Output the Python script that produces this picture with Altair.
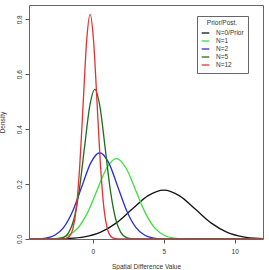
import altair as alt
import pandas as pd

# Density curves for the prior and the posteriors after N observations
series_names = ["N=0/Prior", "N=1", "N=2", "N=5", "N=12"]
series_colors = ["#141414", "#3ae23a", "#2b2bdc", "#1f6e1f", "#e63030"]

prior_x = [-4.5, -3.96, -2.84, -1.72, -0.6, 0.52, 1.64, 2.76, 3.88, 5.0,
           6.12, 7.24, 8.36, 9.48, 10.6, 11.72, 12.0]
prior_y = [0.0001, 0.0001, 0.0004, 0.002, 0.0078, 0.024, 0.0578, 0.108, 0.157, 0.178,
           0.157, 0.108, 0.0578, 0.024, 0.0078, 0.002, 0.0014]

n1_x = [-4.5, -3.78, -3.1, -2.42, -1.74, -1.06, -0.38, 0.3, 0.98, 1.66,
        2.34, 3.02, 3.7, 4.38, 5.06, 5.74, 6.42, 7.1, 12.0]
n1_y = [0.0, 0.0001, 0.0006, 0.0033, 0.0129, 0.0396, 0.0951, 0.1777, 0.2586, 0.293,
        0.2586, 0.1777, 0.0951, 0.0396, 0.0129, 0.0033, 0.0006, 0.0001, 0.0]

n2_x = [-4.5, -3.955, -3.32, -2.685, -2.05, -1.415, -0.78, -0.145, 0.49,
        1.125, 1.76, 2.395, 3.03, 3.665, 4.3, 4.935, 5.57, 12.0]
n2_y = [0.00014, 0.0007, 0.0035, 0.0138, 0.0425, 0.102, 0.1904, 0.2771, 0.314,
        0.2771, 0.1904, 0.102, 0.0425, 0.0138, 0.0035, 0.0007, 0.0001, 0.0]

n5_x = [-4.5, -2.788, -2.422, -2.056, -1.69, -1.324, -0.958, -0.592, -0.226, 0.14,
        0.506, 0.872, 1.238, 1.604, 1.97, 2.336, 2.702, 3.068, 12.0]
n5_y = [0.0, 0.0002, 0.0012, 0.0061, 0.0239, 0.0737, 0.177, 0.3306, 0.481, 0.545,
        0.481, 0.3306, 0.177, 0.0737, 0.0239, 0.0061, 0.0012, 0.0002, 0.0]

n12_x = [-4.5, -2.142, -1.898, -1.654, -1.41, -1.166, -0.922, -0.678, -0.434, -0.19,
         0.054, 0.298, 0.542, 0.786, 1.03, 1.274, 1.518, 1.762, 12.0]
n12_y = [0.0, 0.0003, 0.0018, 0.0091, 0.0359, 0.1107, 0.2656, 0.4961, 0.7219, 0.818,
         0.7219, 0.4961, 0.2656, 0.1107, 0.0359, 0.0091, 0.0018, 0.0003, 0.0]

x_ticks = [0, 5, 10]
y_ticks = [0.0, 0.2, 0.4, 0.6, 0.8]

curves = [(prior_x, prior_y), (n1_x, n1_y), (n2_x, n2_y), (n5_x, n5_y), (n12_x, n12_y)]
rows = []
for order, (name, (xs, ys)) in enumerate(zip(series_names, curves)):
    for x, y in zip(xs, ys):
        rows.append({"series": name, "order": order, "x": x, "density": y})
df = pd.DataFrame(rows)

font = "Liberation Sans"
text_color = "#333333"

chart = (
    alt.Chart(df)
    .mark_line(strokeWidth=1.3, interpolate="monotone", clip=True)
    .encode(
        x=alt.X(
            "x:Q",
            scale=alt.Scale(domain=[-4.5, 12], nice=False, zero=False),
            axis=alt.Axis(
                title="Spatial Difference Value",
                values=x_ticks,
                format="d",
                grid=False,
                domain=False,
                tickSize=4,
                tickColor="#555555",
                labelPadding=5,
                titlePadding=9,
            ),
        ),
        y=alt.Y(
            "density:Q",
            scale=alt.Scale(domain=[0, 0.852], nice=False, zero=False),
            axis=alt.Axis(
                title="Density",
                values=y_ticks,
                format=".1f",
                grid=False,
                domain=False,
                tickSize=4,
                tickColor="#555555",
                labelAngle=270,
                labelAlign="center",
                labelBaseline="bottom",
                labelPadding=3,
                titlePadding=10.5,
            ),
        ),
        color=alt.Color(
            "series:N",
            scale=alt.Scale(domain=series_names, range=series_colors),
            legend=alt.Legend(
                title="Prior/Post.",
                orient="none",
                legendX=168,
                legendY=11,
                symbolType="stroke",
                symbolSize=58,
                symbolStrokeWidth=1.3,
                labelOffset=6,
                padding=4,
                rowPadding=0,
                titleAnchor="middle",
                titleAlign="center",
                titlePadding=2,
                fillColor="white",
                strokeColor="#666666",
                labelFontSize=6.5,
                titleFontSize=6.5,
                titleFontWeight="normal",
            ),
        ),
        order=alt.Order("order:Q"),
        detail="series:N",
    )
    .properties(
        width=234,
        height=234,
        autosize=alt.AutoSizeParams(type="none"),
        padding={"left": 29, "top": 5, "right": 6, "bottom": 31},
    )
    .configure_view(stroke="#666666", strokeWidth=1)
    .configure_axis(
        labelFont=font,
        titleFont=font,
        labelFontSize=6.5,
        titleFontSize=6.5,
        titleFontWeight="normal",
        labelColor=text_color,
        titleColor=text_color,
    )
    .configure_legend(labelFont=font, titleFont=font, labelColor=text_color, titleColor=text_color)
)

chart.save("out.html", embed_options={"renderer": "svg", "actions": False})
